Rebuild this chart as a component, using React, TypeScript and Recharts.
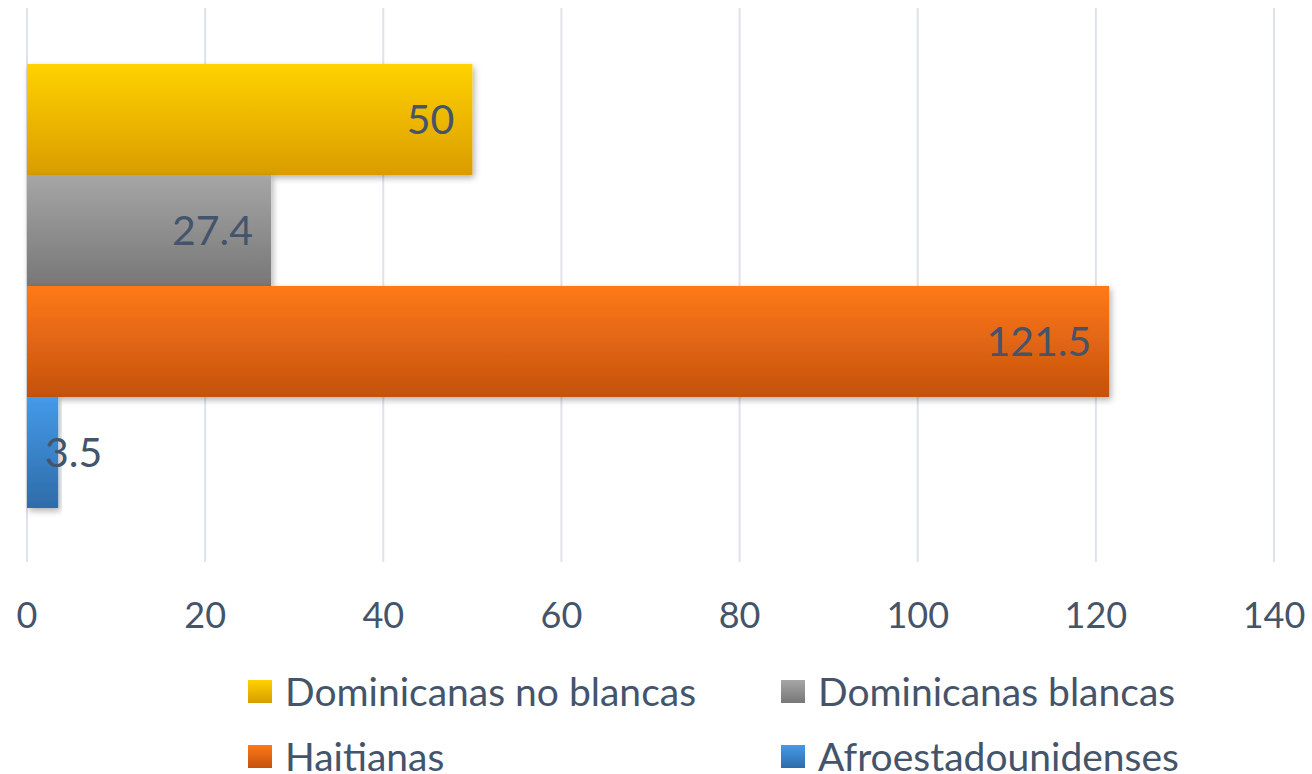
import React from 'react';
import { BarChart, Bar, XAxis, YAxis, CartesianGrid, Legend, LabelList } from 'recharts';

const categories = ['Tasa'];
const seriesNames = ['Dominicanas no blancas', 'Dominicanas blancas', 'Haitianas', 'Afroestadounidenses'];
const seriesValues = [50, 27.4, 121.5, 3.5];
const xTicks = [0, 20, 40, 60, 80, 100, 120, 140];

const seriesKeys = ['s0', 's1', 's2', 's3'];
const gradTop = ['#FFD200', '#A6A6A6', '#FF7917', '#459AE9'];
const gradBottom = ['#DA9C00', '#777777', '#C4520E', '#2E6CA9'];

const data = categories.map((name) => {
  const row: Record<string, any> = { name };
  seriesKeys.forEach((k, i) => {
    row[k] = seriesValues[i];
  });
  return row;
});

const TEXT = '#44546A';
const FONT = 'Lato, "Open Sans", sans-serif';

const renderLabel = (props: any) => {
  const { x, y, width, height, value } = props;
  const fs = 41;
  const est = String(value).length * 0.55 * fs;
  const fits = width - 36 > est;
  const tx = fits ? x + width - 18 : x + 18;
  return (
    <text
      x={tx}
      y={y + height / 2}
      dy="0.36em"
      textAnchor={fits ? 'end' : 'start'}
      fill={TEXT}
      fontSize={fs}
      fontFamily={FONT}
    >
      {value}
    </text>
  );
};

const renderLegend = () => {
  const colX = [248, 781];
  const rowCenter = [691, 756];
  const top0 = 664;
  return (
    <div style={{ position: 'relative', width: 1312, height: 110 }}>
      {seriesNames.map((n, i) => {
        const col = i % 2;
        const row = Math.floor(i / 2);
        return (
          <div
            key={n}
            style={{
              position: 'absolute',
              left: colX[col],
              top: rowCenter[row] - top0 - 25,
              height: 50,
              display: 'flex',
              alignItems: 'center',
              whiteSpace: 'nowrap',
            }}
          >
            <div
              style={{
                width: 24,
                height: 23,
                background: `linear-gradient(${gradTop[i]}, ${gradBottom[i]})`,
                marginRight: 13,
                flex: 'none',
              }}
            />
            <span style={{ fontFamily: FONT, fontSize: 39, color: TEXT, lineHeight: 1.2 }}>{n}</span>
          </div>
        );
      })}
    </div>
  );
};

export default function App() {
  return (
    <div style={{ position: 'absolute', left: 0, top: 0, width: 1312, height: 774, background: '#fff', overflow: 'hidden' }}>
      <BarChart
        width={1312}
        height={774}
        data={data}
        layout="vertical"
        margin={{ top: 8, right: 38, bottom: 142, left: 27 }}
        barCategoryGap={56}
        barGap={0}
        style={{ fontFamily: FONT }}
      >
        <defs>
          {seriesKeys.map((k, i) => (
            <linearGradient key={k} id={`grad-${k}`} x1="0" y1="0" x2="0" y2="1">
              <stop offset="0%" stopColor={gradTop[i]} />
              <stop offset="100%" stopColor={gradBottom[i]} />
            </linearGradient>
          ))}
          <filter id="barShadow" x="-5%" y="-10%" width="115%" height="130%">
            <feDropShadow dx="2" dy="3" stdDeviation="3" floodColor="#000" floodOpacity="0.3" />
          </filter>
        </defs>
        <CartesianGrid horizontal={false} stroke="#DEE2E9" strokeWidth={2} />
        <XAxis
          type="number"
          domain={[0, 140]}
          ticks={xTicks}
          axisLine={false}
          tickLine={false}
          tickSize={0}
          tickMargin={40}
          height={70}
          tick={{ fill: TEXT, fontSize: 36, fontFamily: FONT }}
          interval={0}
        />
        <YAxis type="category" dataKey="name" hide />
        {seriesKeys.map((k, i) => (
          <Bar
            key={k}
            dataKey={k}
            name={seriesNames[i]}
            fill={`url(#grad-${k})`}
            filter="url(#barShadow)"
            isAnimationActive={false}
          >
            <LabelList dataKey={k} content={renderLabel} />
          </Bar>
        ))}
        <Legend
          layout="horizontal"
          verticalAlign="middle"
          align="center"
          content={renderLegend}
          wrapperStyle={{ top: 664, left: 0, width: 1312, height: 110 }}
        />
      </BarChart>
    </div>
  );
}
